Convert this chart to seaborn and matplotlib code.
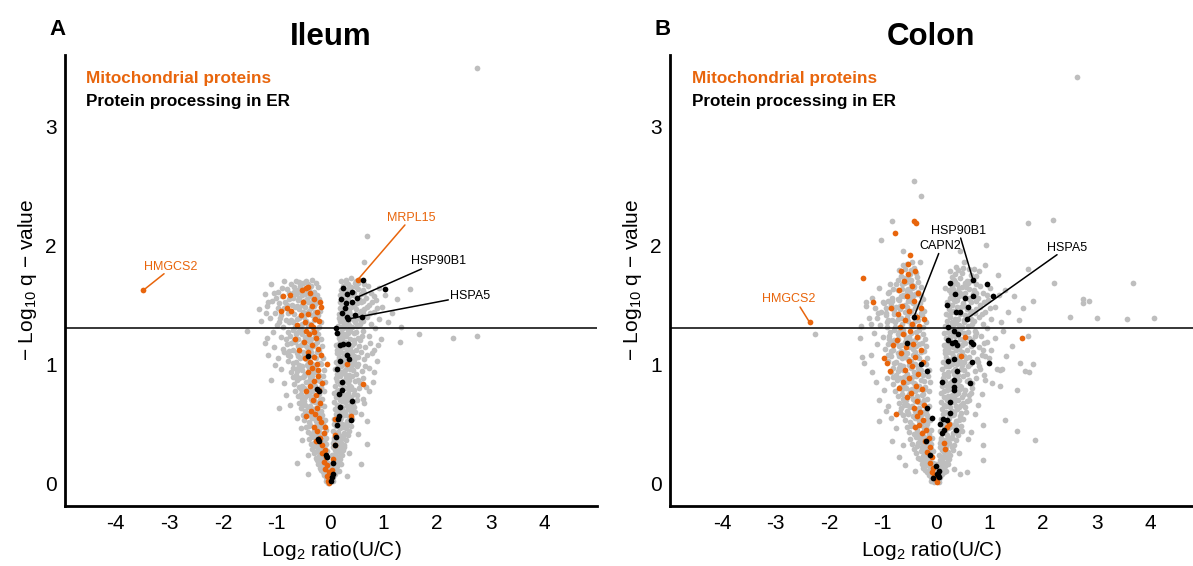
import matplotlib
matplotlib.use("Agg")
import matplotlib.pyplot as plt
import seaborn as sns
import pandas as pd

# ---------------- data (log2 ratio, -log10 q) ----------------
ileum_gray = [
 (-0.02,0.01),(0.01,0.02),(-0.05,0.03),(0.03,0.04),(-0.08,0.05),(0.06,0.05),(-0.01,0.06),(-0.11,0.07),(0.04,0.07),(0.09,0.08),(-0.06,0.08),(-0.13,0.09),(0.02,0.09),(0.07,0.10),(-0.09,0.10),(-0.03,0.04),(0.05,0.02),(-0.04,0.00),
 (-0.16,0.11),(-0.10,0.12),(0.11,0.12),(0.05,0.13),(-0.19,0.13),(-0.07,0.14),(0.14,0.14),(0.08,0.15),(-0.13,0.15),(-0.22,0.16),(0.03,0.16),(0.12,0.17),(-0.04,0.17),(-0.17,0.18),(0.16,0.18),(0.06,0.19),(-0.10,0.19),(-0.25,0.20),(0.10,0.20),(0.19,0.20),(-0.62,0.17),(0.58,0.16),(-0.41,0.08),(0.31,0.06),
 (-0.27,0.21),(-0.14,0.21),(0.07,0.22),(0.15,0.22),(-0.20,0.23),(-0.08,0.23),(0.22,0.24),(0.04,0.24),(-0.30,0.25),(-0.11,0.25),(0.12,0.26),(0.19,0.26),(-0.24,0.27),(-0.05,0.27),(0.09,0.28),(0.25,0.28),(-0.33,0.29),(-0.16,0.29),(0.05,0.30),(0.16,0.30),(-0.21,0.30),(-0.41,0.24),(0.36,0.25),
 (-0.28,0.31),(-0.12,0.31),(0.11,0.32),(0.27,0.32),(-0.36,0.33),(-0.07,0.33),(0.06,0.34),(0.20,0.34),(-0.23,0.35),(-0.15,0.35),(0.14,0.36),(0.30,0.36),(-0.39,0.37),(-0.09,0.37),(0.08,0.38),(0.23,0.38),(-0.31,0.39),(-0.19,0.39),(0.17,0.40),(0.33,0.40),(-0.26,0.40),(0.69,0.33),(-0.52,0.36),
 (-0.35,0.41),(-0.11,0.41),(0.10,0.42),(0.26,0.42),(-0.42,0.43),(-0.21,0.43),(0.05,0.44),(0.35,0.44),(-0.29,0.45),(-0.08,0.45),(0.18,0.46),(0.29,0.46),(-0.45,0.47),(-0.16,0.47),(0.12,0.48),(0.39,0.48),(-0.37,0.49),(-0.24,0.49),(0.22,0.50),(0.07,0.50),(-0.13,0.50),(-0.55,0.46),(0.52,0.41),(0.70,0.52),
 (-0.40,0.51),(-0.18,0.51),(0.14,0.52),(0.31,0.52),(-0.48,0.53),(-0.10,0.53),(0.08,0.54),(0.42,0.54),(-0.33,0.55),(-0.25,0.55),(0.20,0.56),(0.36,0.56),(-0.51,0.57),(-0.14,0.57),(0.11,0.58),(0.27,0.58),(-0.44,0.59),(-0.29,0.59),(0.46,0.60),(0.16,0.60),(-0.21,0.60),(-0.62,0.55),(0.58,0.58),(-0.37,0.57),
 (-0.46,0.61),(-0.16,0.61),(0.09,0.62),(0.33,0.62),(-0.55,0.63),(-0.27,0.63),(0.22,0.64),(0.45,0.64),(-0.38,0.65),(-0.12,0.65),(0.13,0.66),(0.38,0.66),(-0.58,0.67),(-0.22,0.67),(0.07,0.68),(0.28,0.68),(-0.49,0.69),(-0.33,0.69),(0.18,0.70),(0.50,0.70),(-0.19,0.70),(-0.75,0.66),(0.64,0.67),(0.41,0.61),
 (-0.52,0.71),(-0.14,0.71),(0.12,0.72),(0.40,0.72),(-0.60,0.73),(-0.30,0.73),(0.25,0.74),(0.50,0.74),(-0.43,0.75),(-0.20,0.75),(0.08,0.76),(0.34,0.76),(-0.65,0.77),(-0.11,0.77),(0.17,0.78),(0.44,0.78),(-0.37,0.79),(-0.26,0.79),(0.29,0.80),(0.55,0.80),(-0.48,0.80),(-0.96,0.63),(-0.82,0.74),(0.73,0.77),(0.62,0.71),
 (-0.57,0.81),(-0.17,0.81),(0.10,0.82),(0.37,0.82),(-0.68,0.83),(-0.33,0.83),(0.22,0.84),(0.56,0.84),(-0.45,0.85),(-0.09,0.85),(0.14,0.86),(0.47,0.86),(-0.62,0.87),(-0.24,0.87),(0.30,0.88),(0.61,0.88),(-0.50,0.89),(-0.38,0.89),(0.19,0.90),(0.42,0.90),(-0.13,0.90),(-1.10,0.87),(-0.86,0.84),(0.80,0.85),(0.68,0.81),
 (-0.64,0.91),(-0.21,0.91),(0.13,0.92),(0.48,0.92),(-0.73,0.93),(-0.36,0.93),(0.26,0.94),(0.60,0.94),(-0.52,0.95),(-0.12,0.95),(0.09,0.96),(0.38,0.96),(-0.69,0.97),(-0.29,0.97),(0.21,0.98),(0.66,0.98),(-0.57,0.99),(-0.43,0.99),(0.33,1.00),(0.53,1.00),(-0.16,1.00),(-0.92,0.96),(0.83,0.93),(-1.02,0.99),(0.72,0.97),
 (-0.70,1.01),(-0.18,1.01),(0.11,1.02),(0.44,1.02),(-0.79,1.03),(-0.40,1.03),(0.24,1.04),(0.63,1.04),(-0.56,1.05),(-0.13,1.05),(0.16,1.06),(0.52,1.06),(-0.74,1.07),(-0.31,1.07),(0.35,1.08),(0.70,1.08),(-0.62,1.09),(-0.47,1.09),(0.20,1.10),(0.58,1.10),(-0.24,1.10),(-0.97,1.05),(-1.15,1.08),(0.88,1.03),(0.78,1.09),(-0.86,1.10),(0.29,1.01),
 (-0.76,1.11),(-0.20,1.11),(0.14,1.12),(0.49,1.12),(-0.88,1.13),(-0.37,1.13),(0.27,1.14),(0.66,1.14),(-0.60,1.15),(-0.15,1.15),(0.12,1.16),(0.41,1.16),(-0.81,1.17),(-0.28,1.17),(0.33,1.18),(0.74,1.18),(-0.66,1.19),(-0.51,1.19),(0.22,1.20),(0.57,1.20),(-0.42,1.20),(-1.05,1.14),(0.90,1.16),(1.30,1.19),(-1.22,1.18),(0.83,1.12),(0.18,1.19),
 (-0.83,1.21),(-0.17,1.21),(0.16,1.22),(0.53,1.22),(-0.92,1.23),(-0.44,1.23),(0.30,1.24),(0.72,1.24),(-0.64,1.25),(-0.22,1.25),(0.13,1.26),(0.45,1.26),(-0.78,1.27),(-0.33,1.27),(0.38,1.28),(0.61,1.28),(-0.70,1.29),(-0.55,1.29),(0.24,1.30),(0.85,1.30),(-0.27,1.29),(-1.07,1.27),(-1.55,1.28),(1.67,1.25),(2.30,1.22),(2.75,1.24),(0.95,1.21),(-1.18,1.22),(0.20,1.27),
 (-0.87,1.31),(-0.21,1.31),(0.15,1.32),(0.50,1.32),(-0.99,1.33),(-0.41,1.33),(0.28,1.34),(0.77,1.34),(-0.69,1.35),(-0.16,1.35),(0.19,1.36),(0.62,1.36),(-0.82,1.37),(-0.30,1.37),(0.36,1.38),(0.92,1.38),(-0.58,1.39),(-1.12,1.39),(0.23,1.40),(0.70,1.40),(-0.48,1.40),(1.08,1.35),(-1.28,1.36),(0.42,1.31),(-0.25,1.38),(0.17,1.39),(1.32,1.31),
 (-0.91,1.41),(-0.23,1.41),(0.16,1.42),(0.55,1.42),(-1.03,1.43),(-0.45,1.43),(0.31,1.44),(0.82,1.44),(-0.74,1.45),(-0.18,1.45),(0.21,1.46),(0.64,1.46),(-0.86,1.47),(-0.35,1.47),(0.40,1.48),(0.98,1.48),(-0.62,1.49),(-1.18,1.49),(0.26,1.50),(0.73,1.50),(-0.52,1.50),(1.15,1.43),(-1.33,1.46),(0.18,1.47),(-0.28,1.44),(0.47,1.41),
 (-0.95,1.51),(-0.26,1.51),(0.18,1.52),(0.58,1.52),(-1.08,1.53),(-0.48,1.53),(0.33,1.54),(0.86,1.54),(-0.77,1.55),(-0.20,1.55),(0.22,1.56),(0.68,1.56),(-0.89,1.57),(-0.38,1.57),(0.43,1.58),(1.02,1.58),(-0.64,1.59),(-1.22,1.59),(0.28,1.60),(0.77,1.60),(-0.55,1.60),(1.25,1.55),(0.19,1.58),(0.50,1.51),(-0.31,1.54),
 (-0.98,1.61),(-0.29,1.61),(0.20,1.62),(0.61,1.62),(-0.80,1.63),(-0.50,1.63),(0.36,1.64),(0.92,1.64),(-0.67,1.65),(-0.22,1.65),(0.24,1.66),(0.71,1.66),(-1.10,1.67),(-0.41,1.67),(0.46,1.68),(0.30,1.69),(-0.58,1.69),(-0.85,1.70),(0.21,1.70),(0.55,1.71),(-0.33,1.71),(0.40,1.72),(0.69,2.08),(0.64,1.86),(2.75,3.49),(1.50,1.63),
]

ileum_gray_core = [
 (-0.06,0.11),(0.04,0.12),(-0.14,0.17),(0.09,0.18),(-0.18,0.22),(0.11,0.23),(-0.03,0.13),(0.13,0.29),(-0.22,0.32),(0.18,0.33),(-0.12,0.34),(0.21,0.37),(-0.27,0.38),(0.02,0.06),(-0.08,0.02),(0.10,0.15),(-0.20,0.26),(0.15,0.27),(-0.16,0.36),(0.24,0.39),(-0.30,0.34),(0.26,0.30),(-0.09,0.29),(0.07,0.36),(-0.24,0.19),(0.17,0.10),(-0.01,0.15),(-0.13,0.26),(0.20,0.16),(-0.07,0.38),
 (-0.32,0.42),(0.15,0.43),(-0.20,0.46),(0.24,0.47),(-0.40,0.48),(0.32,0.49),(-0.27,0.52),(0.19,0.53),(-0.14,0.54),(0.36,0.53),(-0.36,0.56),(0.28,0.57),(-0.46,0.58),(0.13,0.59),(-0.23,0.58),(0.39,0.59),(-0.31,0.62),(0.25,0.61),(-0.42,0.64),(0.17,0.65),(-0.19,0.66),(0.31,0.65),(-0.52,0.66),(0.43,0.67),(-0.28,0.68),(0.22,0.69),(-0.36,0.71),(0.35,0.70),(-0.46,0.72),(0.19,0.73),(-0.23,0.74),(0.29,0.72),(-0.55,0.75),(0.45,0.75),(-0.33,0.77),(0.13,0.77),(-0.41,0.78),(0.38,0.79),(-0.17,0.79),(0.23,0.79),
 (-0.28,0.82),(0.18,0.83),(-0.52,0.82),(0.33,0.84),(-0.40,0.86),(0.26,0.86),(-0.19,0.86),(0.52,0.87),(-0.58,0.88),(0.11,0.88),(-0.33,0.90),(0.35,0.91),(-0.46,0.92),(0.20,0.93),(-0.61,0.94),(0.43,0.95),(-0.25,0.95),(0.29,0.96),(-0.40,0.97),(0.15,0.98),(-0.53,0.98),(0.50,0.98),(-0.33,1.00),(0.25,1.00),(-0.64,1.02),(0.38,1.03),(-0.45,1.04),(0.17,1.04),(-0.27,1.05),(0.47,1.05),(-0.59,1.07),(0.27,1.07),(-0.36,1.08),(0.14,1.09),(-0.51,1.10),(0.41,1.10),(-0.69,1.12),(0.32,1.12),(-0.43,1.14),(0.21,1.14),(-0.31,1.15),(0.55,1.15),(-0.55,1.16),(0.17,1.17),(-0.72,1.18),(0.45,1.18),(-0.38,1.19),(0.28,1.19),(-0.60,1.21),(0.37,1.21),(-0.47,1.22),(0.20,1.23),(-0.28,1.23),(0.60,1.24),(-0.74,1.24),(0.26,1.25),(-0.39,1.26),(0.49,1.27),(-0.59,1.27),(0.33,1.29),
 (-0.65,1.31),(0.21,1.31),(-0.36,1.32),(0.35,1.33),(-0.53,1.34),(0.56,1.34),(-0.77,1.35),(0.25,1.35),(-0.44,1.36),(0.44,1.37),(-0.61,1.38),(0.30,1.38),(-0.93,1.39),(0.52,1.39),(-0.33,1.41),(0.20,1.41),(-0.67,1.42),(0.38,1.42),(-0.79,1.43),(0.61,1.43),(-0.40,1.45),(0.27,1.45),(-0.58,1.46),(0.49,1.46),(-0.97,1.47),(0.33,1.48),(-0.46,1.48),(0.69,1.48),(-0.71,1.50),(0.23,1.50),(-0.36,1.51),(0.42,1.51),(-0.84,1.52),(0.62,1.53),(-0.59,1.54),(0.29,1.54),(-0.43,1.55),(0.51,1.56),(-0.70,1.56),(0.36,1.57),(-1.01,1.56),(0.25,1.58),(-0.52,1.58),(0.58,1.59),(-0.34,1.59),(0.45,1.60),(-0.76,1.60),(0.31,1.61),(-0.46,1.61),(0.52,1.63),(-0.60,1.62),(0.26,1.63),(-0.90,1.64),(0.40,1.65),(-0.35,1.66),(0.63,1.67),(-0.73,1.67),(0.34,1.67),(-0.50,1.68),(0.48,1.70),
 (-0.56,1.30),(-0.38,1.34),(-0.72,1.37),(-0.26,1.40),(-0.50,1.44),(-0.65,1.48),(-0.30,1.49),(-0.42,1.52),(-0.80,1.50),(-0.57,1.56),(-0.24,1.58),(-0.47,1.59),(-0.68,1.61),(-0.39,1.63),(-0.56,1.66),(-0.27,1.68),(-0.63,1.70),(-0.45,1.70),(-1.05,1.60),(-1.15,1.52),(-1.20,1.43),(-0.95,1.35),
 (0.26,1.32),(0.33,1.36),(0.46,1.35),(0.57,1.38),(0.24,1.43),(0.35,1.45),(0.58,1.45),(0.44,1.49),(0.30,1.53),(0.55,1.55),(0.38,1.60),(0.25,1.61),(0.64,1.60),(0.48,1.65),(0.29,1.71),(0.52,1.68),(0.79,1.52),(0.88,1.47),(0.75,1.43),(0.83,1.57),
 (-0.53,1.25),(-0.35,1.21),(-0.68,1.20),(-0.46,1.16),(-0.24,1.19),(-0.57,1.11),(-0.35,1.10),(-0.78,1.08),(-0.50,1.06),(-0.41,1.00),(-0.60,0.97),(-0.28,0.93),(-0.48,0.90),(-0.70,0.89),(-0.35,0.84),(-0.55,0.79),(-0.40,0.74),(-0.29,0.70),(-0.47,0.66),(-0.33,0.61),
 (0.34,1.26),(0.23,1.22),(0.44,1.20),(0.18,1.15),(0.37,1.13),(0.26,1.09),(0.45,1.07),(0.32,1.04),(0.19,0.99),(0.41,0.99),(0.28,0.92),(0.36,0.87),(0.25,0.82),(0.40,0.81),(0.31,0.75),(0.24,0.70),(0.36,0.64),(0.28,0.60),(0.21,0.55),(0.30,0.50),
]

ileum_mito = [
 (-0.45,1.64),(-0.42,1.65),(-0.87,1.57),(-0.75,1.58),(-0.92,1.45),(-0.81,1.47),(-0.72,1.45),(-0.16,1.48),(-0.38,1.60),(-0.30,1.55),(-0.50,1.52),(-0.34,1.49),(-0.25,1.44),(-0.41,1.42),(-0.28,1.38),(-0.47,1.35),(-0.36,1.33),(-0.21,1.36),(-0.55,1.41),(-0.32,1.31),(-0.44,1.28),(-0.61,1.33),(-0.19,1.52),(-0.53,1.62),
 (-0.39,1.25),(-0.27,1.22),(-0.48,1.19),(-0.33,1.16),(-0.22,1.13),(-0.42,1.10),(-0.58,1.12),(-0.30,1.06),(-0.37,1.02),(-0.25,1.00),(-0.46,1.05),(-0.17,1.08),(-0.66,1.21),(-0.29,1.27),(-0.06,1.00),
 (-0.34,0.97),(-0.41,0.93),(-0.23,0.90),(-0.30,0.86),(-0.37,0.82),(-0.20,0.78),(-0.27,0.74),(-0.44,0.77),(-0.32,0.70),(-0.18,0.67),(-0.25,0.63),(-0.35,0.61),(-0.14,0.84),(-0.22,0.95),(0.31,1.00),(0.62,0.83),
 (-0.28,0.58),(-0.21,0.55),(-0.16,0.51),(-0.30,0.47),(-0.24,0.44),(-0.12,0.42),(-0.19,0.38),(-0.26,0.35),(-0.14,0.32),(-0.45,0.56),(0.09,0.54),(0.39,0.56),(0.10,0.40),(0.09,0.32),(-0.09,0.47),
 (-0.10,0.28),(-0.15,0.25),(-0.07,0.22),(-0.12,0.18),(-0.05,0.15),(-0.09,0.12),(-0.02,0.09),(-0.06,0.06),(0.01,0.04),(-0.03,0.02),(0.03,0.11),(0.05,0.20),(-0.01,0.00),
 (0.52,1.71),(-3.49,1.62),
]

ileum_er = [
 (0.61,1.71),(0.25,1.64),(0.31,1.59),(0.41,1.61),(0.50,1.56),(1.03,1.63),(0.30,1.51),(0.41,1.52),(0.22,1.43),(0.31,1.40),(0.47,1.41),(0.59,1.40),(0.34,1.38),(0.14,1.26),(0.12,1.30),(0.25,1.17),(0.34,1.17),(0.19,1.16),(0.31,1.08),(0.36,1.04),(0.19,1.03),(0.14,0.96),(0.23,0.85),(0.22,0.78),(0.16,0.75),(0.42,0.69),(0.19,0.64),(0.17,0.56),(0.15,0.54),(0.39,0.53),(0.14,0.49),(0.12,0.39),(0.09,0.32),(-0.20,0.35),(-0.23,0.37),(-0.07,0.24),(-0.06,0.22),(0.06,0.17),(0.05,0.08),(0.03,0.05),(0.02,0.02),(-0.20,0.77),(-0.25,0.79),(-0.41,1.07),(0.28,1.47),(0.20,1.55),
]

colon_gray = [
 (-0.03,0.01),(0.02,0.02),(-0.07,0.03),(0.05,0.03),(-0.10,0.05),(0.08,0.05),(-0.01,0.06),(-0.14,0.07),(0.04,0.07),(0.11,0.08),(-0.05,0.08),(-0.17,0.09),(0.01,0.09),(0.09,0.10),(-0.12,0.10),(-0.04,0.04),(0.06,0.01),(-0.39,0.10),(0.45,0.08),(0.57,0.09),(0.14,0.09),
 (-0.20,0.11),(-0.11,0.12),(0.13,0.12),(0.06,0.13),(-0.24,0.13),(-0.08,0.14),(0.17,0.14),(0.09,0.15),(-0.16,0.15),(-0.27,0.16),(0.04,0.16),(0.15,0.17),(-0.05,0.17),(-0.21,0.18),(0.20,0.18),(0.08,0.19),(-0.13,0.19),(-0.30,0.20),(0.12,0.20),(0.24,0.20),(0.87,0.19),(-0.58,0.15),(0.33,0.12),
 (-0.33,0.21),(-0.17,0.21),(0.09,0.22),(0.18,0.22),(-0.25,0.23),(-0.10,0.23),(0.27,0.24),(0.05,0.24),(-0.37,0.25),(-0.14,0.25),(0.14,0.26),(0.23,0.26),(-0.29,0.27),(-0.06,0.27),(0.11,0.28),(0.31,0.28),(-0.41,0.29),(-0.20,0.29),(0.07,0.30),(0.19,0.30),(-0.69,0.22),(0.88,0.32),(0.42,0.25),(-0.26,0.30),
 (-0.35,0.31),(-0.15,0.31),(0.13,0.32),(0.33,0.32),(-0.44,0.33),(-0.09,0.33),(0.08,0.34),(0.25,0.34),(-0.28,0.35),(-0.19,0.35),(0.17,0.36),(0.37,0.36),(-0.48,0.37),(-0.11,0.37),(0.10,0.38),(0.29,0.38),(-0.38,0.39),(-0.23,0.39),(0.21,0.40),(0.41,0.40),(-0.32,0.40),(1.85,0.36),(-0.82,0.35),(0.60,0.37),(-0.62,0.32),
 (-0.42,0.41),(-0.13,0.41),(0.12,0.42),(0.31,0.42),(-0.51,0.43),(-0.25,0.43),(0.07,0.44),(0.43,0.44),(-0.35,0.45),(-0.10,0.45),(0.22,0.46),(0.35,0.46),(-0.55,0.47),(-0.19,0.47),(0.15,0.48),(0.47,0.48),(-0.45,0.49),(-0.29,0.49),(0.27,0.50),(0.09,0.50),(-0.16,0.50),(1.51,0.44),(0.88,0.49),(-0.74,0.46),(0.65,0.43),
 (-0.48,0.51),(-0.21,0.51),(0.16,0.52),(0.38,0.52),(-0.58,0.53),(-0.12,0.53),(0.10,0.54),(0.50,0.54),(-0.40,0.55),(-0.30,0.55),(0.25,0.56),(0.44,0.56),(-0.62,0.57),(-0.17,0.57),(0.13,0.58),(0.33,0.58),(-0.53,0.59),(-0.35,0.59),(0.56,0.60),(0.19,0.60),(-0.25,0.60),(1.29,0.53),(-0.85,0.55),(0.72,0.58),(-1.06,0.52),
 (-0.55,0.61),(-0.19,0.61),(0.11,0.62),(0.40,0.62),(-0.66,0.63),(-0.32,0.63),(0.27,0.64),(0.55,0.64),(-0.45,0.65),(-0.14,0.65),(0.15,0.66),(0.46,0.66),(-0.70,0.67),(-0.26,0.67),(0.09,0.68),(0.34,0.68),(-0.59,0.69),(-0.39,0.69),(0.21,0.70),(0.62,0.70),(-0.23,0.70),(-0.89,0.65),(-0.93,0.61),(0.78,0.66),(-1.07,0.70),
 (-0.61,0.71),(-0.17,0.71),(0.14,0.72),(0.49,0.72),(-0.72,0.73),(-0.36,0.73),(0.30,0.74),(0.61,0.74),(-0.51,0.75),(-0.24,0.75),(0.10,0.76),(0.41,0.76),(-0.77,0.77),(-0.13,0.77),(0.20,0.78),(0.54,0.78),(-0.44,0.79),(-0.31,0.79),(0.35,0.80),(0.68,0.80),(-0.57,0.80),(1.51,0.78),(0.85,0.75),(-0.98,0.78),(1.20,0.82),
 (-0.67,0.81),(-0.20,0.81),(0.12,0.82),(0.45,0.82),(-0.80,0.83),(-0.39,0.83),(0.26,0.84),(0.68,0.84),(-0.54,0.85),(-0.11,0.85),(0.17,0.86),(0.57,0.86),(-0.73,0.87),(-0.28,0.87),(0.36,0.88),(0.74,0.88),(-0.59,0.89),(-0.45,0.89),(0.23,0.90),(0.51,0.90),(-0.15,0.90),(-1.12,0.85),(0.92,0.87),(-0.92,0.88),(1.05,0.84),
 (-0.74,0.91),(-0.24,0.91),(0.15,0.92),(0.58,0.92),(-0.85,0.93),(-0.42,0.93),(0.31,0.94),(0.72,0.94),(-0.61,0.95),(-0.14,0.95),(0.11,0.96),(0.46,0.96),(-0.80,0.97),(-0.34,0.97),(0.25,0.98),(0.80,0.98),(-0.67,0.99),(-0.50,0.99),(0.39,1.00),(0.64,1.00),(-0.19,1.00),(-1.20,0.93),(1.74,0.93),(1.66,0.94),(1.13,0.96),(1.19,0.95),(1.23,0.96),(0.90,0.91),
 (-0.79,1.01),(-0.21,1.01),(0.13,1.02),(0.53,1.02),(-0.90,1.03),(-0.46,1.03),(0.29,1.04),(0.76,1.04),(-0.64,1.05),(-0.16,1.05),(0.19,1.06),(0.62,1.06),(-0.84,1.07),(-0.36,1.07),(0.42,1.08),(0.85,1.08),(-0.71,1.09),(-0.54,1.09),(0.24,1.10),(0.69,1.10),(-0.28,1.10),(-1.35,1.01),(-1.39,1.06),(-1.22,1.08),(1.82,1.00),(1.57,1.01),(0.98,1.05),(1.30,1.07),
 (-0.84,1.11),(-0.23,1.11),(0.16,1.12),(0.58,1.12),(-0.96,1.13),(-0.43,1.13),(0.32,1.14),(0.80,1.14),(-0.69,1.15),(-0.18,1.15),(0.14,1.16),(0.49,1.16),(-0.90,1.17),(-0.32,1.17),(0.39,1.18),(0.89,1.18),(-0.75,1.19),(-0.58,1.19),(0.26,1.20),(0.67,1.20),(-0.49,1.20),(-1.11,1.17),(1.02,1.12),(1.41,1.15),(0.95,1.19),
 (-0.88,1.21),(-0.20,1.21),(0.18,1.22),(0.62,1.22),(-0.99,1.23),(-0.50,1.23),(0.35,1.24),(0.84,1.24),(-0.72,1.25),(-0.25,1.25),(0.15,1.26),(0.53,1.26),(-0.86,1.27),(-0.37,1.27),(0.44,1.28),(0.72,1.28),(-0.79,1.29),(-0.62,1.29),(0.28,1.30),(0.96,1.30),(-0.31,1.29),(-2.26,1.25),(-1.42,1.22),(1.72,1.24),(1.10,1.22),(-1.15,1.26),(1.25,1.28),(0.22,1.27),
 (-0.91,1.31),(-0.24,1.31),(0.17,1.32),(0.59,1.32),(-1.04,1.33),(-0.47,1.33),(0.33,1.34),(0.88,1.34),(-0.76,1.35),(-0.19,1.35),(0.21,1.36),(0.71,1.36),(-0.89,1.37),(-0.34,1.37),(0.41,1.38),(1.02,1.38),(-0.65,1.39),(-1.25,1.39),(0.26,1.40),(0.80,1.40),(-0.55,1.40),(2.50,1.40),(3.00,1.39),(3.56,1.38),(4.07,1.39),(1.22,1.35),(-1.40,1.32),(1.55,1.37),(0.48,1.31),
 (-0.94,1.41),(-0.27,1.41),(0.19,1.42),(0.63,1.42),(-1.08,1.43),(-0.51,1.43),(0.36,1.44),(0.92,1.44),(-0.79,1.45),(-0.22,1.45),(0.24,1.46),(0.74,1.46),(-0.93,1.47),(-0.40,1.47),(0.46,1.48),(1.10,1.48),(-0.68,1.49),(-1.30,1.49),(0.30,1.50),(0.83,1.50),(-0.58,1.50),(1.35,1.44),(1.62,1.47),(0.54,1.41),
 (-0.97,1.51),(-0.30,1.51),(0.21,1.52),(0.66,1.52),(-0.82,1.53),(-0.53,1.53),(0.39,1.54),(0.97,1.54),(-0.71,1.55),(-0.25,1.55),(0.26,1.56),(0.78,1.56),(-0.60,1.57),(-0.43,1.57),(0.49,1.58),(1.18,1.58),(-0.35,1.59),(-1.30,1.52),(0.33,1.60),(0.87,1.60),(-0.48,1.60),(2.74,1.55),(2.85,1.53),(2.74,1.51),(1.82,1.53),(1.45,1.57),
 (-0.88,1.61),(-0.33,1.61),(0.24,1.62),(0.70,1.62),(-0.64,1.63),(-0.52,1.63),(0.42,1.64),(1.00,1.64),(-0.41,1.65),(-0.28,1.65),(0.29,1.66),(0.82,1.66),(-0.75,1.67),(-0.46,1.67),(0.55,1.68),(0.35,1.69),(-0.57,1.69),(0.63,1.70),(2.20,1.68),(3.67,1.68),(1.28,1.62),(0.16,1.64),
 (-0.60,1.72),(-0.36,1.73),(0.30,1.73),(0.75,1.74),(-0.49,1.76),(0.48,1.77),(-0.69,1.79),(0.62,1.80),(-0.42,1.81),(0.37,1.82),(-0.55,1.84),(0.92,1.83),(0.53,1.86),(-0.30,1.86),(1.71,1.80),(1.15,1.75),(0.27,1.78),
 (-0.42,2.54),(-0.28,2.41),(-0.83,2.20),(-1.03,2.04),(0.93,2.00),(1.71,2.19),(2.18,2.21),(2.64,3.41),(-0.62,1.95),(0.45,1.95),
]

colon_gray_core = [
 (-0.07,0.11),(0.05,0.11),(-0.16,0.17),(0.11,0.18),(-0.21,0.22),(0.14,0.23),(-0.03,0.14),(0.16,0.29),(-0.25,0.32),(0.21,0.33),(-0.13,0.34),(0.25,0.37),(-0.31,0.38),(0.03,0.05),(-0.09,0.02),(0.12,0.15),(-0.23,0.26),(0.18,0.27),(-0.18,0.36),(0.29,0.39),(-0.34,0.34),(0.30,0.30),(-0.10,0.29),(0.09,0.36),(-0.27,0.19),(0.19,0.10),(-0.01,0.16),(-0.15,0.26),(0.22,0.16),(-0.07,0.38),
 (-0.36,0.42),(0.17,0.43),(-0.22,0.46),(0.27,0.47),(-0.47,0.48),(0.38,0.49),(-0.32,0.52),(0.22,0.53),(-0.16,0.54),(0.42,0.53),(-0.43,0.56),(0.32,0.57),(-0.53,0.58),(0.15,0.59),(-0.27,0.58),(0.46,0.59),(-0.37,0.62),(0.29,0.61),(-0.49,0.64),(0.19,0.65),(-0.22,0.66),(0.37,0.65),(-0.60,0.66),(0.51,0.67),(-0.33,0.68),(0.25,0.69),(-0.43,0.71),(0.41,0.70),(-0.54,0.72),(0.22,0.73),(-0.27,0.74),(0.34,0.72),(-0.64,0.75),(0.53,0.75),(-0.39,0.77),(0.15,0.77),(-0.49,0.78),(0.45,0.79),(-0.20,0.79),(0.27,0.79),(0.58,0.69),(-0.68,0.60),(0.48,0.44),(-0.56,0.70),(0.66,0.76),
 (-0.32,0.82),(0.20,0.82),(-0.60,0.83),(0.39,0.84),(-0.47,0.86),(0.30,0.86),(-0.22,0.86),(0.62,0.87),(-0.68,0.88),(0.13,0.88),(-0.38,0.90),(0.41,0.91),(-0.54,0.92),(0.23,0.93),(-0.71,0.94),(0.52,0.95),(-0.29,0.95),(0.35,0.96),(-0.47,0.97),(0.18,0.98),(-0.62,0.98),(0.59,0.98),(-0.39,1.00),(0.29,1.00),(-0.75,1.02),(0.45,1.03),(-0.53,1.04),(0.20,1.04),(-0.31,1.05),(0.56,1.05),(-0.69,1.07),(0.32,1.07),(-0.43,1.08),(0.16,1.09),(-0.60,1.10),(0.49,1.10),(-0.81,1.12),(0.38,1.12),(-0.51,1.14),(0.25,1.14),(-0.37,1.15),(0.66,1.15),(-0.65,1.16),(0.20,1.17),(-0.85,1.18),(0.54,1.18),(-0.45,1.19),(0.33,1.19),(-0.71,1.21),(0.44,1.21),(-0.56,1.22),(0.24,1.23),(-0.33,1.23),(0.72,1.24),(-0.87,1.24),(0.31,1.25),(-0.46,1.26),(0.59,1.27),(-0.70,1.27),(0.39,1.29),(0.78,1.02),(0.88,1.12),(0.82,0.96),(0.75,1.26),(0.92,1.07),
 (-0.77,1.31),(0.25,1.31),(-0.43,1.32),(0.42,1.33),(-0.63,1.34),(0.67,1.34),(-0.91,1.35),(0.30,1.35),(-0.52,1.36),(0.53,1.37),(-0.72,1.38),(0.36,1.38),(-1.10,1.39),(0.62,1.39),(-0.39,1.41),(0.24,1.41),(-0.79,1.42),(0.45,1.42),(-0.93,1.43),(0.73,1.43),(-0.47,1.45),(0.32,1.45),(-0.68,1.46),(0.58,1.46),(-1.14,1.47),(0.39,1.48),(-0.54,1.48),(0.82,1.48),(-0.84,1.50),(0.27,1.50),(-0.43,1.51),(0.50,1.51),(-0.99,1.52),(0.74,1.53),(-0.70,1.54),(0.34,1.54),(-0.51,1.55),(0.61,1.56),(-0.83,1.56),(0.43,1.57),(-1.19,1.56),(0.30,1.58),(-0.61,1.58),(0.69,1.59),(-0.40,1.59),(0.54,1.60),(-0.90,1.60),(0.37,1.61),(-0.54,1.61),(0.62,1.63),(-0.71,1.62),(0.31,1.63),(-1.06,1.64),(0.48,1.65),(-0.41,1.66),(0.75,1.67),(-0.86,1.67),(0.40,1.67),(-0.59,1.68),(0.57,1.70),(-0.47,1.71),(0.44,1.72),(-0.65,1.74),(0.66,1.75),(-0.38,1.77),(0.35,1.76),(-0.58,1.80),(0.51,1.81),(-0.44,1.86),(0.80,1.78),
 (-0.65,1.30),(-0.40,1.36),(-0.82,1.37),(-0.28,1.43),(-0.58,1.44),(-0.75,1.48),(-0.36,1.49),(-0.49,1.53),(-0.90,1.53),(-0.66,1.57),(-0.29,1.57),(-0.55,1.62),(-0.80,1.63),(-0.44,1.64),(-0.64,1.67),(-0.33,1.69),(-0.72,1.71),(-0.53,1.72),(-0.46,1.79),(-0.62,1.83),(-1.02,1.44),(-1.22,1.34),
 (0.29,1.33),(0.38,1.36),(0.52,1.35),(0.66,1.38),(0.28,1.44),(0.41,1.46),(0.66,1.45),(0.52,1.49),(0.35,1.53),(0.62,1.55),(0.45,1.60),(0.28,1.60),(0.75,1.60),(0.56,1.65),(0.33,1.71),(0.60,1.68),(0.90,1.52),(1.00,1.47),(0.86,1.42),(0.95,1.58),(0.41,1.79),(0.70,1.80),
 (-0.60,1.25),(-0.40,1.20),(-0.78,1.20),(-0.53,1.16),(-0.27,1.18),(-0.66,1.11),(-0.40,1.10),(-0.90,1.08),(-0.58,1.06),(-0.47,1.00),(-0.70,0.97),(-0.31,0.93),(-0.56,0.90),(-0.80,0.89),(-0.41,0.84),(-0.64,0.79),(-0.47,0.74),(-0.34,0.70),(-0.55,0.66),(-0.39,0.61),
 (0.40,1.26),(0.26,1.22),(0.51,1.20),(0.21,1.15),(0.43,1.13),(0.30,1.09),(0.52,1.07),(0.37,1.04),(0.22,0.99),(0.48,0.99),(0.33,0.92),(0.43,0.87),(0.29,0.82),(0.47,0.81),(0.37,0.75),(0.28,0.70),(0.43,0.64),(0.33,0.60),(0.25,0.55),(0.36,0.50),
]

colon_mito = [
 (-0.42,2.20),(-0.38,2.19),(-0.77,2.10),(-1.37,1.72),(-1.18,1.52),(-0.49,1.92),(-0.66,1.78),(-0.52,1.76),(-0.39,1.78),(-0.60,1.70),(-0.45,1.66),(-0.70,1.62),(-0.33,1.60),(-0.55,1.57),(-0.41,1.53),(-0.63,1.49),(-0.28,1.47),(-0.50,1.45),(-0.72,1.42),(-0.36,1.40),(-0.58,1.37),(-0.44,1.34),(-0.67,1.31),(-0.31,1.32),(-0.53,1.84),(-0.85,1.47),(-0.22,1.38),
 (-0.48,1.28),(-0.62,1.25),(-0.35,1.23),(-0.73,1.20),(-0.43,1.17),(-0.56,1.14),(-0.29,1.12),(-0.66,1.09),(-0.39,1.06),(-0.51,1.03),(-0.97,1.05),(-0.91,1.01),(-0.24,1.02),(-0.81,1.16),(0.46,1.07),(0.55,1.23),(1.60,1.22),
 (-0.86,0.94),(-0.45,0.98),(-0.58,0.95),(-0.33,0.92),(-0.50,0.88),(-0.62,0.85),(-0.38,0.82),(-0.27,0.79),(-0.46,0.76),(-0.55,0.72),(-0.35,0.69),(-0.22,0.66),(-0.42,0.63),(-0.30,0.60),(-0.69,0.80),
 (-0.75,0.58),(-0.36,0.56),(-0.25,0.53),(-0.31,0.49),(-0.18,0.45),(-0.27,0.42),(-0.14,0.38),(-0.21,0.35),(-0.11,0.30),(-0.16,0.26),(-0.08,0.22),(-0.12,0.17),(-0.05,0.13),(-0.08,0.09),(-0.03,0.06),(-0.01,0.03),(0.01,0.01),(0.15,0.34),(0.16,0.29),(0.20,0.47),(0.25,0.50),(-0.40,0.47),
 (-2.36,1.35),
]

colon_er = [
 (0.69,1.71),(0.26,1.68),(0.36,1.59),(0.54,1.56),(0.69,1.57),(0.20,1.50),(0.37,1.44),(0.45,1.44),(0.60,1.48),(0.57,1.38),(0.23,1.31),(0.34,1.28),(0.41,1.25),(0.29,1.18),(0.39,1.16),(0.69,1.17),(-0.54,1.18),(-0.41,1.40),
 (-0.29,1.00),(-0.17,0.94),(0.23,1.20),(0.36,1.19),(0.65,1.19),(0.22,1.03),(0.34,1.04),(0.67,1.02),(0.39,0.94),(0.12,0.85),(0.34,0.87),(0.33,0.81),(0.34,0.78),(0.64,0.84),(0.99,1.01),(0.26,0.68),(0.26,0.59),(0.21,0.53),(0.13,0.54),(0.07,0.50),(0.37,0.45),(0.14,0.45),(0.12,0.42),(-0.16,0.63),(-0.08,0.55),(-0.19,0.35),(-0.12,0.24),(0.00,0.14),(0.01,0.08),(0.03,0.07),(0.06,0.05),(-0.05,0.04),(0.06,0.10),
 (0.96,1.67),(1.07,1.57),
]

# gene labels: (name, point_x, point_y, seg_end_x, seg_end_y, text_x, text_y, colour key)
ileum_labels = [
 ("HMGCS2", -3.49, 1.62, -3.10, 1.76, -2.97, 1.82, "mito"),
 ("MRPL15", 0.52, 1.71, 1.40, 2.17, 1.51, 2.23, "mito"),
 ("HSP90B1", 0.50, 1.56, 1.71, 1.80, 2.02, 1.87, "er"),
 ("HSPA5", 0.34, 1.38, 2.21, 1.54, 2.62, 1.57, "er"),
]
colon_labels = [
 ("HMGCS2", -2.36, 1.35, -2.54, 1.48, -2.76, 1.55, "mito"),
 ("CAPN2", -0.41, 1.40, 0.05, 1.93, 0.07, 1.99, "er"),
 ("HSP90B1", 0.69, 1.71, 0.46, 2.06, 0.42, 2.12, "er"),
 ("HSPA5", 0.57, 1.38, 2.26, 1.92, 2.44, 1.98, "er"),
]

panel_titles = ["Ileum", "Colon"]
panel_letters = ["A", "B"]
x_ticks = [-4, -3, -2, -1, 0, 1, 2, 3, 4]
y_ticks = [0, 1, 2, 3]
threshold = 1.30103  # -log10(0.05)
legend_items = ["Mitochondrial proteins", "Protein processing in ER"]

# ---------------- style ----------------
GRAY = "#BEBEBE"
ORANGE = "#E8650C"
BLACK = "#000000"
colours = {"mito": ORANGE, "er": BLACK}

sns.set_style("white")
plt.rcParams["font.family"] = ["Liberation Sans", "DejaVu Sans"]
plt.rcParams["mathtext.fontset"] = "custom"
plt.rcParams["mathtext.rm"] = "Liberation Sans"
plt.rcParams["mathtext.it"] = "Liberation Sans:italic"
plt.rcParams["text.color"] = "black"
plt.rcParams["axes.labelcolor"] = "black"
plt.rcParams["axes.titlecolor"] = "black"

fig = plt.figure(figsize=(11.93, 5.66), dpi=100)
ax_a = fig.add_axes([0.0545, 0.106, 0.446, 0.797])
ax_b = fig.add_axes([0.5616, 0.106, 0.4384, 0.797])

def make_df(gray, mito, er):
    rows = [(x, y, "gray") for x, y in gray] + \
           [(x, y, "mito") for x, y in mito] + \
           [(x, y, "er") for x, y in er]
    return pd.DataFrame(rows, columns=["log2ratio", "neglog10q", "group"])

panels = [
    (ax_a, make_df(ileum_gray + ileum_gray_core, ileum_mito, ileum_er), ileum_labels, (-4.95, 4.99)),
    (ax_b, make_df(colon_gray + colon_gray_core, colon_mito, colon_er), colon_labels, (-4.97, 4.80)),
]

for i, (ax, df, labels, xlim) in enumerate(panels):
    for grp, col in [("gray", GRAY), ("mito", ORANGE), ("er", BLACK)]:
        sub = df[df["group"] == grp]
        sns.scatterplot(data=sub, x="log2ratio", y="neglog10q", color=col,
                        s=17, linewidth=0, ax=ax, legend=False, zorder=2 if grp == "gray" else 3)
    ax.axhline(threshold, color="black", lw=1.1, zorder=4)
    for name, px, py, ex, ey, tx, ty, key in labels:
        c = colours[key]
        ax.plot([px, ex], [py, ey], color=c, lw=1.1, zorder=5)
        ax.text(tx, ty, name, color=c, fontsize=9, ha="center", va="center", zorder=6)
    ax.text(-4.56, 3.40, legend_items[0], color=ORANGE, fontsize=12.3,
            fontweight="bold", ha="left", va="center")
    ax.text(-4.56, 3.21, legend_items[1], color=BLACK, fontsize=12.3,
            fontweight="bold", ha="left", va="center")

    ax.set_xlim(*xlim)
    ax.set_ylim(-0.193, 3.6)
    ax.set_xticks(x_ticks)
    ax.set_xticklabels([str(t) for t in x_ticks])
    ax.set_yticks(y_ticks)
    ax.set_yticklabels([str(t) for t in y_ticks])
    ax.tick_params(axis="both", labelsize=15, length=4, width=1.6,
                   direction="out", colors="black", pad=2)
    for side in ["top", "right"]:
        ax.spines[side].set_visible(False)
    for side in ["left", "bottom"]:
        ax.spines[side].set_linewidth(2.0)
        ax.spines[side].set_color("black")
    ax.set_xlabel("Log$_2$ ratio(U/C)", fontsize=15, labelpad=4)
    ax.set_ylabel("\u2212 Log$_{10}$ q \u2212 value", fontsize=15, labelpad=4)
    ax.set_title(panel_titles[i], fontsize=22.5, fontweight="bold", pad=7)
    ax.grid(False)

fig.text(0.0486, 0.947, panel_letters[0], fontsize=16, fontweight="bold",
         ha="center", va="center")
fig.text(0.555, 0.947, panel_letters[1], fontsize=16, fontweight="bold",
         ha="center", va="center")

fig.savefig("out.png", dpi=100, facecolor="white")
